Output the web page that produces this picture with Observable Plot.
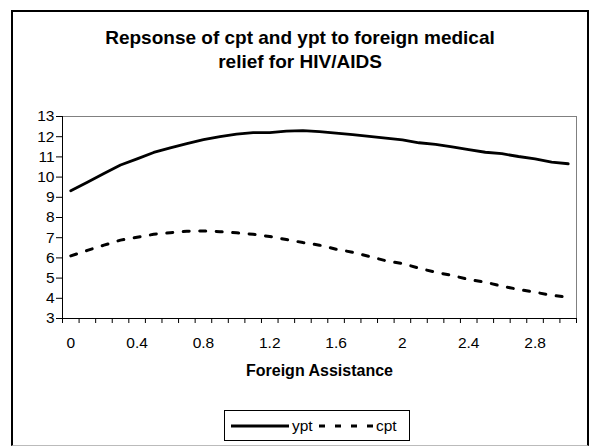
<!DOCTYPE html>
<html>
<head>
<meta charset="utf-8">
<script src="https://cdn.jsdelivr.net/npm/d3@7"></script>
<script src="https://cdn.jsdelivr.net/npm/@observablehq/plot@0.6"></script>
<style>
  html, body { margin: 0; padding: 0; background: #fff; }
  #wrap { position: relative; width: 590px; height: 446px; overflow: hidden; font-family: "Liberation Sans", Arial, sans-serif; }
  #border { position: absolute; left: 11px; top: 10px; width: 574px; height: 433px; border: 2px solid #000; border-bottom: 1px solid #bbb; }
  #title { position: absolute; left: 11px; width: 578px; top: 26px; text-align: center; font-weight: bold; font-size: 19px; line-height: 24px; color: #000; }
  #legend { position: absolute; left: 224px; top: 410px; width: 184px; height: 29px; border: 1px solid #000; background: #fff; }
  #legend svg { position: absolute; left: 0; top: 0; }
  #chart { position: absolute; left: 0; top: 0; }
</style>
</head>
<body>
<div id="wrap">
  <div id="border"></div>
  <div id="chart"></div>
  <div id="title">Repsonse of cpt and ypt to foreign medical<br>relief for HIV/AIDS</div>
  <div id="legend"></div>
</div>
<script>
// Data
const assistance = [0, 0.1, 0.2, 0.3, 0.4, 0.5, 0.6, 0.7, 0.8, 0.9, 1.0, 1.1, 1.2, 1.3, 1.4, 1.5,
  1.6, 1.7, 1.8, 1.9, 2.0, 2.1, 2.2, 2.3, 2.4, 2.5, 2.6, 2.7, 2.8, 2.9, 3.0];
const ypt = [9.32, 9.75, 10.18, 10.6, 10.9, 11.22, 11.45, 11.66, 11.85, 12.0, 12.13, 12.2, 12.2, 12.28, 12.3, 12.25,
  12.18, 12.1, 12.02, 11.93, 11.84, 11.7, 11.62, 11.5, 11.36, 11.23, 11.16, 11.02, 10.9, 10.74, 10.66];
const cpt = [6.1, 6.37, 6.63, 6.88, 7.02, 7.17, 7.25, 7.32, 7.33, 7.3, 7.24, 7.17, 7.06, 6.91, 6.76, 6.63,
  6.43, 6.28, 6.07, 5.86, 5.72, 5.49, 5.29, 5.13, 4.93, 4.8, 4.6, 4.44, 4.3, 4.15, 4.05];
const yTicks = [3, 4, 5, 6, 7, 8, 9, 10, 11, 12, 13];
const xLabelTicks = [0, 0.4, 0.8, 1.2, 1.6, 2.0, 2.4, 2.8];
const xTitle = "Foreign Assistance";
const seriesNames = ["ypt", "cpt"];

const half = 0.05;
const xDomain = [assistance[0] - half, assistance[assistance.length - 1] + half];
const boundaries = assistance.map(a => a - half).concat([assistance[assistance.length - 1] + half]);

const rows = assistance.map((a, i) => ({a, ypt: ypt[i], cpt: cpt[i]}));

const plot = Plot.plot({
  width: 590,
  height: 446,
  marginLeft: 62,
  marginRight: 14,
  marginTop: 116,
  marginBottom: 128,
  style: {fontFamily: "Liberation Sans, Arial, sans-serif", fontSize: "15px", color: "#000", background: "transparent", overflow: "visible"},
  x: {domain: xDomain, type: "linear"},
  y: {domain: [3, 13]},
  marks: [
    Plot.frame({stroke: "#808080", strokeWidth: 1}),
    Plot.line(rows, {x: "a", y: "ypt", stroke: "#000", strokeWidth: 2.8, curve: "linear"}),
    Plot.line(rows, {x: "a", y: "cpt", stroke: "#000", strokeWidth: 3, strokeDasharray: "6 10.5", curve: "linear"}),
    Plot.ruleX([xDomain[0]], {stroke: "#000", strokeWidth: 1}),
    Plot.ruleY([3], {stroke: "#000", strokeWidth: 1}),
    Plot.axisY({ticks: yTicks, tickSize: 6, tickPadding: 2, tickFormat: d => String(d), label: null, fontSize: 15.5, stroke: "#000"}),
    Plot.axisX({ticks: boundaries, tickSize: 5, tickFormat: () => "", label: null, stroke: "#000"}),
    Plot.axisX({ticks: xLabelTicks, tickSize: 0, tickPadding: 18, tickFormat: d => String(+d.toFixed(1)), label: null, fontSize: 15.5}),
    Plot.text([xTitle], {frameAnchor: "bottom", dy: 57, fontWeight: "bold", fontSize: 16, fill: "#000"})
  ]
});
document.getElementById("chart").appendChild(plot);

// Legend
const lg = d3.select("#legend").append("svg").attr("width", 184).attr("height", 29);
lg.append("line").attr("x1", 6).attr("x2", 64).attr("y1", 15).attr("y2", 15).attr("stroke", "#000").attr("stroke-width", 2.8);
lg.append("text").attr("x", 67).attr("y", 20).attr("font-size", 15.5).attr("font-family", "Liberation Sans, Arial, sans-serif").text(seriesNames[0]);
lg.append("line").attr("x1", 94).attr("x2", 148).attr("y1", 15).attr("y2", 15).attr("stroke", "#000").attr("stroke-width", 3).attr("stroke-dasharray", "6 10");
lg.append("text").attr("x", 151).attr("y", 20).attr("font-size", 15.5).attr("font-family", "Liberation Sans, Arial, sans-serif").text(seriesNames[1]);
</script>
</body>
</html>
